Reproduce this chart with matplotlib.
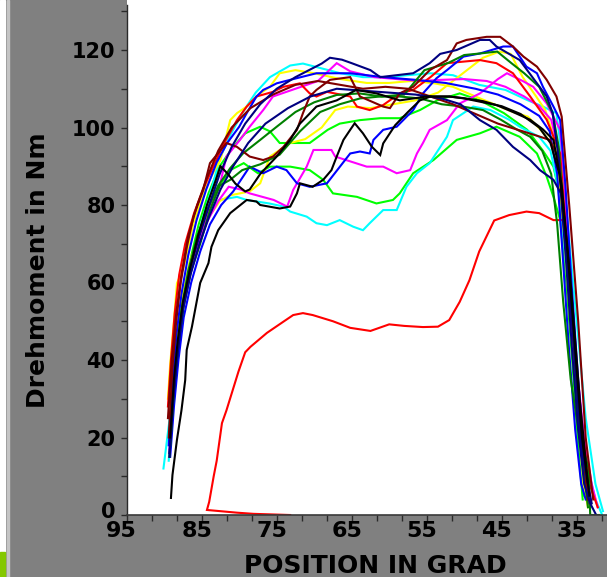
import matplotlib
matplotlib.use('Agg')
import matplotlib.pyplot as plt
from matplotlib.ticker import FixedLocator
from matplotlib.transforms import ScaledTranslation
from matplotlib.patches import Rectangle

# ---------------- data (position in degrees, torque in Nm) ----------------
x_ticks = [95, 85, 75, 65, 55, 45, 35]
x_tick_labels = ["95", "85", "75", "65", "55", "45", "35"]
y_ticks = [0, 20, 40, 60, 80, 100, 120]
y_tick_labels = ["0", "20", "40", "60", "80", "100", "120"]
x_label = "POSITION IN GRAD"
y_label = "Drehmoment in Nm"

red_low_x = [73.2, 78.1, 80.3, 84.3, 84.0, 83.4, 83.0, 82.3, 81.7, 80.1, 79.2, 78.5, 76.3, 74.1, 72.8, 71.5, 70.2, 67.5, 65.2, 62.5,
             60.0, 58.0, 55.5, 53.5, 52.0, 50.6, 49.3, 48.0, 47.0, 46.0, 44.0, 41.7, 40.0, 38.1, 36.8, 36.0, 35.2, 34.3, 33.4]
red_low_y = [0.0, 0.3, 0.6, 1.3, 3.4, 10.0, 14.0, 23.7, 27.0, 37.0, 42.0, 43.4, 47.0, 49.9, 51.6, 52.1, 51.6, 50.0, 48.3, 47.5,
             49.2, 48.8, 48.5, 48.6, 50.3, 55.0, 60.6, 68.0, 72.0, 76.0, 77.4, 78.3, 77.9, 76.1, 76.1, 60.0, 38.0, 15.0, 3.0]

red_hi_x = [89.5, 89.1, 88.6, 88.0, 87.2, 86.0, 84.6, 83.2, 82.0, 80.3, 79.0, 77.7, 75.5, 74.1, 71.9, 70.6, 69.7, 68.3, 65.2, 64.3,
            62.6, 60.8, 58.6, 56.8, 54.5, 52.3, 47.9, 45.7, 43.5, 41.2, 39.0, 37.2, 36.5, 35.6, 34.5, 33.3, 32.2]
red_hi_y = [28, 40, 52, 62, 70, 78, 85, 91, 96, 101.9, 105.4, 108, 109.2, 110.5, 111.4, 108.8, 108, 109.2, 108, 105.4,
            104.5, 105.8, 108.8, 109.7, 113, 116.6, 117.4, 116.6, 114, 108, 102, 93.3, 75, 50, 25, 8, 2]

maroon_hi_x = [89.4, 88.9, 88.4, 87.8, 87.0, 86.1, 84.8, 83.9, 81.7, 80.3, 78.6, 76.8, 75.5, 74.1, 72.3, 71.5, 70.6, 69.7, 67.9, 65.2,
               63.9, 60.8, 59.9, 58.6, 56.8, 54.6, 52.3, 51.0, 49.7, 47.0, 45.2, 43.5, 42.1, 40.3, 39.0, 37.7, 37.0, 36.0, 34.8, 33.8, 32.8]
maroon_hi_y = [20, 38, 50, 60, 69, 77, 83.9, 90.8, 96, 95, 92.5, 91.6, 92.5, 95, 99.4, 103.7, 108, 109.7, 112.3, 113,
               108, 105.4, 105, 108.8, 110.5, 114.8, 117.4, 121.7, 122.6, 123.4, 123.4, 120.9, 118.3, 115.7, 112.3, 108, 102.8, 80, 50, 20, 4]

maroon_2_x = [89.5, 89.0, 88.4, 87.7, 86.8, 85.6, 84.3, 82.8, 81.0, 78.5, 75.5, 72.5, 69.5, 66.5, 63.5, 60.5, 57.5, 54.5, 51.5, 48.5,
              45.5, 43.0, 40.5, 38.6, 37.4, 36.6, 35.6, 34.5, 33.5]
maroon_2_y = [25, 40, 52, 62, 72, 80, 87, 94, 100, 105, 108.5, 111, 112, 111, 110, 110.5, 110, 108, 106, 103.5,
              101, 99.5, 98, 96.8, 92, 75, 50, 22, 4]

yellow_1_x = [89.5, 89.2, 88.7, 88.3, 87.4, 86.1, 84.4, 83.5, 82.5, 81.2, 80.3, 79.0, 77.2, 75.9, 74.6, 72.5, 70.0, 66.5, 63.0, 60.0,
              57.0, 54.0, 51.5, 48.5, 46.0, 43.5, 41.5, 39.8, 38.4, 37.4, 36.6, 35.9, 35.0, 34.1, 33.5]
yellow_1_y = [30, 39, 50, 59.8, 64, 75.3, 84.7, 88.2, 91.6, 101.9, 103.7, 105.4, 108.8, 110.5, 114, 114.8, 114, 112.5, 111.5, 111.5,
              112, 111.4, 110.5, 108, 106, 104, 102.8, 99.4, 96, 88, 70, 51, 30, 8, 2]

yellow_2_x = [89.2, 88.8, 88.2, 87.4, 86.5, 85.3, 84.0, 82.6, 81.2, 79.9, 78.6, 77.2, 75.9, 73.2, 71.2, 69.0, 67.2, 65.5, 62.5, 59.5,
              56.5, 53.5, 51.5, 49.5, 47.5, 45.3, 43.8, 42.2, 40.4, 39.2, 38.2, 37.4, 36.4, 35.4, 34.4, 33.4]
yellow_2_y = [22, 36, 48, 58, 66, 72, 77, 81, 82.5, 83, 83.5, 85.6, 92.5, 96, 97, 100, 104.5, 105.4, 105, 106,
              107, 109, 112, 115, 118, 119.6, 119, 113, 108, 104.5, 98.5, 90, 70, 45, 18, 3]

dgreen_1_x = [89.3, 88.8, 88.3, 87.7, 86.8, 85.6, 84.2, 82.8, 81.2, 79.5, 77.2, 75.0, 72.5, 70.0, 67.0, 64.0, 61.0, 58.0, 55.3, 52.2,
              50.0, 47.9, 45.6, 43.7, 42.0, 40.0, 38.2, 37.4, 36.6, 35.6, 34.6, 33.5]
dgreen_1_y = [15, 30, 42, 53, 63, 72, 79, 85, 89.5, 93.3, 96.8, 100.2, 104, 106.5, 108.4, 108.8, 108, 108.5, 114.8, 116.6,
              118.7, 119.1, 119.6, 116.6, 114, 110.5, 103.7, 95, 75, 50, 20, 2]

dgreen_2_x = [89.2, 88.7, 88.1, 87.4, 86.4, 85.2, 83.9, 82.6, 81.2, 79.6, 77.2, 74.6, 71.9, 69.2, 66.6, 63.9, 61.2, 58.6, 55.9, 53.0,
              50.2, 47.5, 45.1, 43.0, 41.2, 39.6, 38.4, 37.6, 36.8, 35.8, 34.6, 33.4, 33.2, 32.0]
dgreen_2_y = [18, 32, 44, 54, 63, 70, 78.7, 85, 86.5, 89, 90.5, 93, 99, 104, 106, 107.5, 108, 108, 107.5, 106,
              105.4, 104.5, 102, 99.5, 97.6, 94, 88, 75, 55, 35, 20, 12, 0, 0]

lime_1_x = [89.3, 88.8, 88.2, 87.5, 86.5, 85.3, 84.0, 82.6, 81.2, 79.4, 77.5, 75.9, 73.2, 70.6, 68.8, 67.5, 64.3, 61.7, 59.5, 58.6,
            56.8, 54.1, 51.0, 47.9, 45.7, 42.6, 40.3, 39.0, 38.1, 37.2, 36.4, 35.6, 34.8, 34.2]
lime_1_y = [20, 34, 46, 56, 65, 72, 79, 85, 89, 90.8, 88.2, 89.9, 89.9, 89, 86.5, 83, 82.1, 80.4, 81.3, 83,
            88.2, 91.6, 96.8, 98.5, 100.2, 97.6, 93.3, 87.3, 82.1, 76.1, 60, 40, 18, 4]

lime_2_x = [89.3, 88.8, 88.2, 87.5, 86.5, 85.4, 84.1, 82.6, 80.8, 79.2, 77.2, 75.9, 74.6, 72.6, 70.6, 68.2, 66.6, 63.9, 61.2, 58.6,
            55.9, 53.6, 50.6, 47.9, 44.7, 41.6, 39.5, 38.1, 37.2, 36.2, 35.6, 34.8, 34.0]
lime_2_y = [18, 32, 45, 56, 66, 75, 83, 90, 95, 98.5, 100.2, 99, 96, 96, 96, 99.4, 101, 101.9, 102.4, 102.4,
            104.5, 107, 108.8, 107, 103.7, 99.4, 94, 89.9, 82, 64, 53, 30, 5]

cyan_top_x = [90.1, 89.2, 88.5, 87.7, 86.8, 85.8, 84.8, 83.7, 82.6, 81.2, 79.5, 77.8, 75.9, 73.2, 71.5, 69.5, 66.5, 63.5, 60.5, 57.5,
              54.5, 51.5, 48.0, 44.5, 41.5, 39.5, 37.7, 37.0, 36.2, 35.0, 33.8, 32.5, 31.5]
cyan_top_y = [12, 26, 40, 52, 62, 70, 77, 84, 92, 98, 104, 109, 113, 116, 116.5, 115.5, 114, 113, 113, 113.5,
              114, 113.5, 111, 109.7, 107, 105.4, 103.7, 93, 75, 50, 25, 8, 1]

cyan_2_x = [89.4, 88.9, 88.4, 87.7, 86.9, 85.8, 84.6, 83.4, 82.6, 80.3, 79.0, 76.0, 74.1, 73.2, 71.0, 69.7, 68.3, 66.6, 64.8, 63.5,
            62.6, 60.8, 59.0, 57.7, 56.3, 54.6, 52.3, 51.5, 50.1, 48.8, 46.5, 44.0, 42.6, 40.0, 38.5, 37.5, 36.6, 35.6, 34.6, 33.5,
            32.5, 31.6]
cyan_2_y = [14, 28, 40, 51, 61, 69, 75, 80, 81.3, 82.1, 81.3, 80.4, 79.6, 78.3, 77, 75.3, 74.8, 76.1, 74.4, 73.5,
            75.3, 78.7, 78.7, 84.7, 88.2, 90.8, 97.6, 101.9, 103.7, 105.4, 104.5, 102, 100.2, 97.6, 94, 85, 68, 48, 28, 12,
            4, 0]

magenta_1_x = [89.3, 88.8, 88.2, 87.5, 86.6, 85.5, 84.2, 82.8, 81.4, 79.8, 78.6, 75.4, 73.6, 72.8, 71.0, 70.1, 67.7, 67.2, 63.0, 60.8,
               59.0, 57.2, 56.3, 55.5, 54.6, 52.3, 50.6, 47.9, 45.5, 44.3, 42.2, 40.8, 39.0, 37.2, 36.6, 36.0, 35.2, 34.2, 33.2]
magenta_1_y = [16, 30, 42, 53, 62, 70, 76, 81, 84.7, 84, 83, 81.3, 79.6, 83.9, 89.9, 94.2, 94.2, 92.5, 89.9, 89.9,
               88.2, 89, 93.3, 96, 99.4, 101.9, 106.2, 108.8, 112.5, 114, 112, 110.5, 106.2, 99.4, 85, 62, 40, 18, 4]

magenta_2_x = [89.3, 88.8, 88.2, 87.5, 86.6, 85.4, 84.1, 82.6, 81.7, 79.9, 78.6, 76.8, 75.5, 69.5, 67.0, 65.2, 62.0, 59.0, 56.0, 53.0,
               50.0, 47.0, 44.5, 42.0, 40.0, 38.4, 37.5, 36.8, 36.0, 35.0, 34.0, 33.0, 32.2]
magenta_2_y = [17, 31, 43, 54, 63, 71, 78, 85, 92.5, 96.8, 100.2, 104.5, 108, 112, 116.6, 114.5, 113, 112.5, 112, 112.3,
               112.5, 112, 110.5, 108, 105.5, 102, 95, 78, 58, 38, 20, 8, 2]

blue_1_x = [89.2, 88.7, 88.1, 87.4, 86.4, 85.2, 83.9, 82.4, 80.8, 78.6, 76.8, 75.0, 73.7, 72.3, 70.6, 68.3, 65.2, 63.9, 62.6, 62.1,
            60.8, 59.0, 56.8, 55.5, 53.7, 52.3, 50.1, 47.9, 44.8, 43.5, 42.6, 41.7, 40.3, 39.5, 38.1, 37.2, 36.5, 35.7, 34.8, 33.9,
            33.2]
blue_1_y = [15, 28, 40, 51, 60, 68, 75, 80, 83.5, 89.9, 88.2, 89.9, 89, 85.6, 84.7, 85.6, 93.3, 93.8, 93.3, 96.8,
            99.4, 100.2, 104.5, 108.8, 112.7, 114.8, 118.3, 119.1, 120.9, 120.9, 118.3, 115.7, 114, 110.5, 105.4, 101.9, 85, 60, 35, 12,
            2]

blue_2_x = [89.4, 88.9, 88.4, 87.7, 86.8, 85.7, 84.4, 83.0, 81.6, 80.0, 79.0, 77.7, 76.8, 75.9, 75.0, 73.2, 69.7, 65.2, 60.8, 56.5,
            52.5, 48.5, 45.5, 42.5, 40.0, 38.6, 37.6, 36.8, 36.0, 35.2, 34.4, 33.8]
blue_2_y = [18, 33, 46, 57, 67, 76, 84, 91, 96, 100.2, 103.7, 108, 109.7, 110.5, 111.4, 112.3, 114, 114, 113, 112.3,
            111.5, 110, 108.5, 106, 103, 99, 88, 65, 42, 22, 8, 4]

navy_top_x = [89.3, 88.8, 88.2, 87.5, 86.5, 85.3, 84.0, 82.6, 81.0, 79.2, 77.2, 75.0, 72.5, 70.5, 69.0, 67.9, 66.3, 65.0, 62.5, 61.2,
              56.8, 54.6, 53.2, 51.0, 47.9, 46.6, 45.7, 42.6, 40.3, 39.0, 38.2, 37.4, 36.5, 35.3, 34.3, 33.0]
navy_top_y = [15, 30, 42, 54, 64, 72, 80, 88, 95, 101, 106, 110, 113, 115, 116.5, 118, 117.5, 116.6, 114.8, 113,
              114, 116.6, 119, 120, 122.6, 122.6, 120.9, 117.4, 111.4, 108, 103.7, 92, 70, 42, 16, 3]

navy_2_x = [89.3, 88.8, 88.2, 87.5, 86.5, 85.3, 84.0, 82.5, 80.8, 78.8, 76.5, 73.5, 70.5, 67.0, 63.5, 60.0, 56.5, 53.0, 50.5, 47.9,
            45.7, 43.5, 41.2, 39.9, 38.1, 37.1, 36.4, 35.6, 34.8, 34.0, 33.2, 32.4]
navy_2_y = [16, 30, 42, 53, 62, 70, 77, 84, 90, 96, 101, 105, 108, 110, 109.5, 109, 108.5, 107.5, 106, 101.9,
            99.4, 95, 91.6, 89, 86.5, 83, 65, 42, 22, 8, 3, 0]

black_a_x = [89.1, 88.9, 88.3, 87.7, 87.2, 87.0, 86.3, 85.2, 84.1, 83.7, 82.8, 81.2, 79.0, 77.7, 77.2, 74.6, 73.2, 72.3, 71.9, 70.2,
             68.8, 67.7, 67.0, 66.1, 65.2, 64.6, 63.5, 62.3, 61.2, 60.8, 59.2, 57.5, 55.9, 54.5, 52.0, 50.2, 47.5, 45.7, 43.5, 41.2,
             39.5, 38.1, 37.0, 35.8, 34.6, 33.5]
black_a_y = [4.4, 10.3, 19.4, 27.0, 34.8, 42.6, 48.6, 59.9, 65.0, 69.2, 73.5, 77.9, 81.3, 80.9, 80.0, 79.1, 79.6, 83.0, 85.6, 84.7,
             86.5, 89.0, 92.5, 96.8, 99.4, 101.1, 98.5, 95.0, 92.9, 95.9, 100.6, 104.0, 107.0, 108.0, 108.0, 107.6, 106.8, 105.8, 104.0, 102.0,
             99.5, 96.8, 85.0, 60.0, 30.0, 8.0]

black_b_x = [89.2, 88.7, 88.2, 87.5, 86.5, 85.5, 84.3, 83.2, 82.5, 81.5, 80.5, 79.2, 78.6, 77.2, 75.0, 73.2, 71.9, 69.7, 67.0, 64.4,
             61.7, 58.6, 55.0, 52.0, 50.0, 47.5, 45.0, 42.5, 40.0, 38.5, 37.3, 36.3, 35.3, 34.3, 33.3]
black_b_y = [20, 35, 45, 55, 64, 72, 80, 86, 90, 88, 85.5, 83.5, 84, 88, 92.5, 96.8, 101, 105.4, 107, 109.7,
             108.8, 107, 108, 108, 107.5, 106.5, 105.5, 103.5, 100, 96, 88, 70, 45, 20, 5]

series = [
    (lime_2_x, lime_2_y, "#00ff00"),
    (lime_1_x, lime_1_y, "#00ff00"),
    (cyan_2_x, cyan_2_y, "#00ffff"),
    (cyan_top_x, cyan_top_y, "#00ffff"),
    (yellow_1_x, yellow_1_y, "#ffff00"),
    (yellow_2_x, yellow_2_y, "#ffff00"),
    (magenta_1_x, magenta_1_y, "#ff00ff"),
    (magenta_2_x, magenta_2_y, "#ff00ff"),
    (red_low_x, red_low_y, "#ff0000"),
    (red_hi_x, red_hi_y, "#ff0000"),
    (blue_1_x, blue_1_y, "#0000ff"),
    (blue_2_x, blue_2_y, "#0000ff"),
    (dgreen_1_x, dgreen_1_y, "#008000"),
    (dgreen_2_x, dgreen_2_y, "#008000"),
    (maroon_2_x, maroon_2_y, "#800000"),
    (maroon_hi_x, maroon_hi_y, "#800000"),
    (navy_2_x, navy_2_y, "#000080"),
    (navy_top_x, navy_top_y, "#000080"),
    (black_b_x, black_b_y, "#000000"),
    (black_a_x, black_a_y, "#000000"),
]

# ---------------- figure ----------------
W, H = 607, 577
DPI = 100
fig = plt.figure(figsize=(W / DPI, H / DPI), dpi=DPI, facecolor="#808080")

# left-edge decorations of the slide
fig.patches.append(Rectangle((0, 0), 5 / W, 1, transform=fig.transFigure, color="white", zorder=0))
fig.patches.append(Rectangle((7 / W, 0), 1.5 / W, 1, transform=fig.transFigure, color="#c4c4c4", zorder=0))
fig.patches.append(Rectangle((0, 0), 5.3 / W, 25 / H, transform=fig.transFigure, color="#84c800", zorder=1))

ax_left = 126.7
ax_bottom = 515.0
ax = fig.add_axes([ax_left / W, (H - ax_bottom) / H, (W - ax_left) / W, ax_bottom / H])
ax.set_facecolor("white")
ax.set_xlim(95, 95 - (W - ax_left) / 7.5)
ax.set_ylim(0, ax_bottom / 3.875)

for xs, ys, c in series:
    n = min(len(xs), len(ys))
    ax.plot(xs[:n], ys[:n], color=c, lw=1.5, solid_joinstyle="miter", clip_on=True)

for s in ("top", "right"):
    ax.spines[s].set_visible(False)
ax.spines["left"].set_bounds(0, 131.5)
ax.spines["left"].set_color("#2a2a2a")
ax.spines["bottom"].set_color("#3a3a3a")
ax.spines["left"].set_linewidth(1.0)
ax.spines["bottom"].set_linewidth(1.2)

ax.set_xticks(x_ticks)
ax.set_xticklabels(x_tick_labels, fontsize=16, fontweight="bold", color="black")
ax.xaxis.set_minor_locator(FixedLocator([m - k * 10 / 3 for m in x_ticks for k in (1, 2)]))
ax.set_yticks(y_ticks)
ax.set_yticklabels(y_tick_labels, fontsize=15, fontweight="bold", color="black")
ax.yaxis.set_minor_locator(FixedLocator([v + 10 for v in y_ticks]))

ax.tick_params(axis="both", which="both", direction="out", length=4, width=1, color="#2a2a2a")
ax.tick_params(axis="x", which="major", pad=0.5)
ax.tick_params(axis="y", which="major", pad=4)

shift = ScaledTranslation(-5 / DPI, 0, fig.dpi_scale_trans)
for lab in ax.get_xticklabels():
    lab.set_transform(lab.get_transform() + shift)
# lift the "0" label a little so it sits just above the "95"
ylabs = ax.get_yticklabels()
ylabs[0].set_transform(ylabs[0].get_transform() + ScaledTranslation(0, 5 / DPI, fig.dpi_scale_trans))

fig.text(38 / W, 1 - 270 / H, y_label, rotation=90, ha="center", va="center",
         fontsize=18, fontweight="bold", color="black")
fig.text(375 / W, 1 - 566 / H, x_label, ha="center", va="center",
         fontsize=18, fontweight="bold", color="black")

fig.savefig("out.png", dpi=DPI, facecolor=fig.get_facecolor())
